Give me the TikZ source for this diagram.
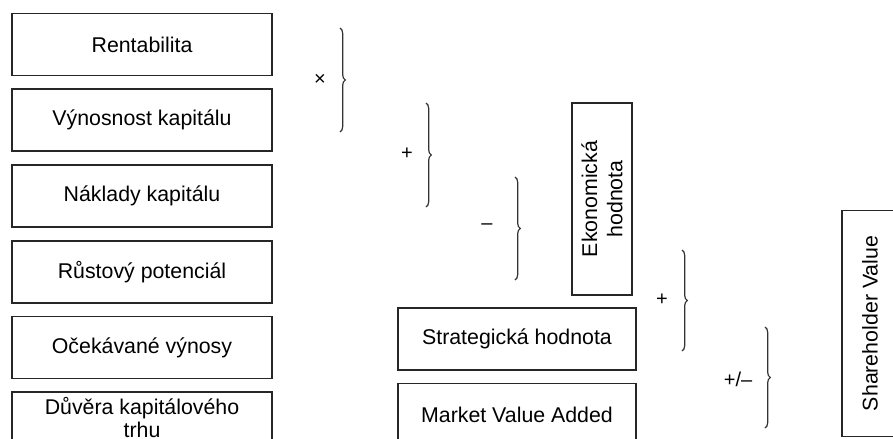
\documentclass[tikz,border=0pt]{standalone}
\usepackage{fontspec}
\setmainfont{Liberation Sans}
\usepackage{tikz}
\usetikzlibrary{positioning,decorations.pathreplacing}
\tikzset{
  lbox/.style={draw=black!85, line width=1.3pt, align=center, font=\fontsize{16}{19}\selectfont, inner sep=2pt, minimum width=195pt, minimum height=46.5pt},
  rbox/.style={draw=black!85, line width=0.9pt, align=center, font=\fontsize{16}{19}\selectfont, inner sep=2pt},
  brc/.style={draw=black!80, line width=0.9pt, decorate, decoration={brace, amplitude=4pt}},
  oplbl/.style={font=\fontsize{15}{17}\selectfont, inner sep=0pt}
}
\begin{document}
\begin{tikzpicture}[x=0.75pt, y=-0.75pt]
\useasboundingbox (0,0) rectangle (893,439);
\clip (0,0) rectangle (893,439);
\fill[white] (0,0) rectangle (893,439);
% left column
\node[lbox] (rent) at (142,44.5) {Rentabilita};
\node[lbox, below=9pt of rent] (vyn) {Výnosnost kapitálu};
\node[lbox, below=9pt of vyn] (nakl) {Náklady kapitálu};
\node[lbox, below=9pt of nakl] (rust) {Růstový potenciál};
\node[lbox, below=9pt of rust] (ocek) {Očekávané výnosy};
\node[lbox, below=9pt of ocek, minimum height=0pt, inner ysep=4pt, text depth=12pt, font=\fontsize{16}{17}\selectfont] (duv) {Důvěra kapitálového\\trhu};
% right side
\node[rbox, rotate=90, minimum width=144pt, minimum height=45pt] (ekon) at (602,199) {Ekonomická\\hodnota};
\node[rbox, minimum width=178.5pt, minimum height=46.5pt] (strat) at (517,339) {Strategická hodnota};
\node[rbox, minimum width=178.5pt, minimum height=47pt] (mva) at (517,414.5) {Market Value Added};
\node[rbox, rotate=90, minimum width=170pt, minimum height=42pt] (sv) at (870,323.5) {Shareholder Value};
% braces and operators
\coordinate (b1t) at (340,28);  \coordinate (b1b) at (340,132);
\coordinate (b2t) at (426,103); \coordinate (b2b) at (426,207);
\coordinate (b3t) at (515,177); \coordinate (b3b) at (515,280);
\coordinate (b4t) at (682,250); \coordinate (b4b) at (682,351);
\coordinate (b5t) at (765,327); \coordinate (b5b) at (765,428);
\draw[brc] (b1t) -- (b1b);
\draw[brc] (b2t) -- (b2b);
\draw[brc] (b3t) -- (b3b);
\draw[brc] (b4t) -- (b4b);
\draw[brc] (b5t) -- (b5b);
\node[oplbl] (op1) at (320,80) {×};
\node[oplbl] (op2) at (407,154) {+};
\node[oplbl] (op3) at (487,227) {–};
\node[oplbl] (op4) at (662,300) {+};
\node[oplbl] (op5) at (738,379) {+/–};
\end{tikzpicture}
\end{document}
